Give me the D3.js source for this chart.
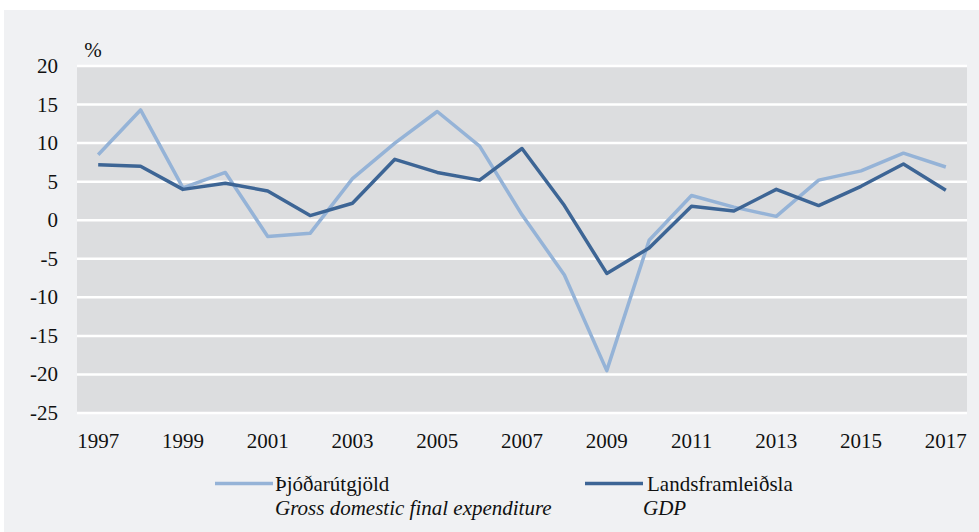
<!DOCTYPE html>
<html><head><meta charset="utf-8">
<script src="https://cdn.jsdelivr.net/npm/d3@7"></script>
</head><body style="margin:0">
<script>
const years = d3.range(1997, 2018);
const tickYears = [1997,1999,2001,2003,2005,2007,2009,2011,2013,2015,2017];
const yTicks = [20,15,10,5,0,-5,-10,-15,-20,-25];
const expenditure = [8.5,14.3,4.2,6.2,-2.1,-1.7,5.4,10.0,14.1,9.6,0.7,-7.1,-19.5,-2.6,3.2,1.7,0.5,5.2,6.4,8.7,6.9];
const gdp = [7.2,7.0,4.0,4.8,3.8,0.6,2.2,7.9,6.2,5.2,9.3,1.9,-6.9,-3.6,1.8,1.2,4.0,1.9,4.4,7.3,3.9];
const seriesNames = ["Þjóðarútgjöld","Landsframleiðsla"];
const seriesNamesEn = ["Gross domestic final expenditure","GDP"];
const colors = ["#95b3d7","#3d6595"];

(function(){
const W=979,H=532;
const FS=21;
const setFont=(sel)=>sel.each(function(){ this.style.setProperty("font-family","'Liberation Serif', serif","important"); });
const svg=d3.select("body").append("svg").attr("width",W).attr("height",H).style("display","block");
svg.append("rect").attr("x",4).attr("y",10).attr("width",W-4).attr("height",H-10).attr("fill","#f0f1f3");

const mL=77,mR=967,mT=66,mB=413;
const x=d3.scaleBand().domain(years).range([mL,mR]);
const y=d3.scaleLinear().domain([-25,20]).range([mB,mT]);

svg.append("rect").attr("x",mL).attr("y",mT).attr("width",mR-mL).attr("height",mB-mT).attr("fill","#dcdddf");

svg.append("g").selectAll("line").data(yTicks).join("line")
  .attr("x1",mL).attr("x2",mR).attr("y1",d=>y(d)).attr("y2",d=>y(d))
  .attr("stroke","#fff").attr("stroke-width",2.5);

svg.append("g").selectAll("text").data(yTicks).join("text")
  .attr("font-size",FS)
  .attr("x",58).attr("y",d=>y(d)+7).attr("text-anchor","end")
  .attr("fill","#111").text(d=>d);

svg.append("text").attr("font-size",FS)
  .attr("x",93).attr("y",57).attr("text-anchor","middle").attr("fill","#111").text("%");

svg.append("g").selectAll("text").data(tickYears).join("text")
  .attr("font-size",FS)
  .attr("x",d=>x(d)+x.bandwidth()/2).attr("y",447.5).attr("text-anchor","middle")
  .attr("fill","#111").text(d=>d);

const line=d3.line().x((d,i)=>x(years[i])+x.bandwidth()/2).y(d=>y(d));
[expenditure,gdp].forEach((s,i)=>{
  svg.append("path").attr("d",line(s)).attr("fill","none").attr("stroke",colors[i])
    .attr("stroke-width",3.5).attr("stroke-linejoin","round");
});

const lg=[{x0:215,x1:273,tx:275,ix:275},{x0:585,x1:643,tx:647,ix:643}];
lg.forEach((p,i)=>{
  svg.append("line").attr("x1",p.x0).attr("x2",p.x1).attr("y1",483.5).attr("y2",483.5)
    .attr("stroke",colors[i]).attr("stroke-width",3.5);
  svg.append("text").attr("font-size",FS)
    .attr("x",p.tx).attr("y",491).attr("fill","#111").text(seriesNames[i]);
  svg.append("text").attr("font-size",FS).attr("font-style","italic")
    .attr("x",p.ix).attr("y",515).attr("fill","#111").text(seriesNamesEn[i]);
});
setFont(svg.selectAll("text"));
})();
</script>
</body></html>
